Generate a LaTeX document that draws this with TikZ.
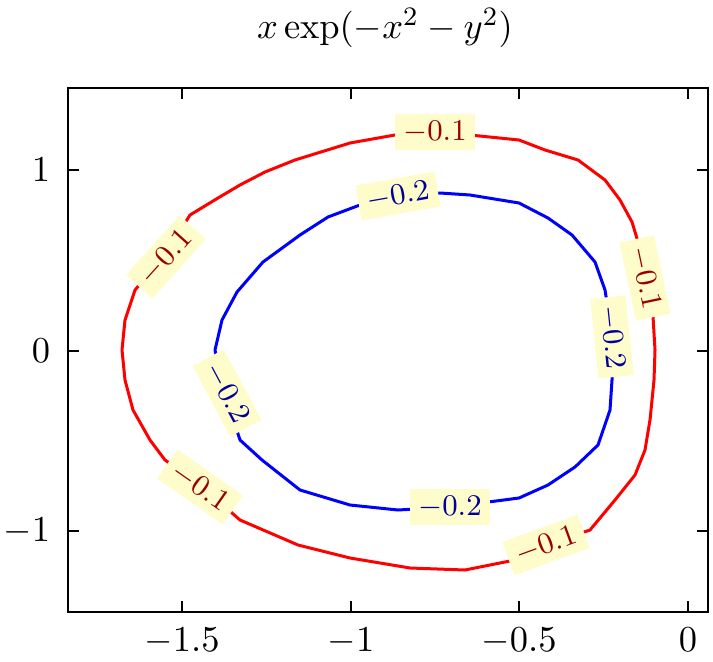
\documentclass[tikz,border=0pt]{standalone}
\begin{document}
\begin{tikzpicture}[x=0.3pt,y=-0.3pt,
 redc/.style={red,line width=0.9pt,line join=round},
 bluec/.style={blue,line width=0.9pt,line join=round},
 lab/.style={fill=yellow!20,inner xsep=2.5pt,inner ysep=2pt,font=\fontsize{8.6}{10}\selectfont},
 big/.style={font=\fontsize{10.8}{13}\selectfont},
 tk/.style={line width=0.4pt}]
\useasboundingbox (0,0) rectangle (713,661);
\node[big] (title) at (385,28) {$x\exp(-x^2-y^2)$};
\draw[redc] (122,350)--(125,320)--(135,290)--(165,255)--(190,215)--(218,198)--(240,185)--(265,172)--(295,160)--(350,143)--(395,135)--(435,132)--(470,135)--(519,140)--(545,150)--(578,160)--(605,180)--(620,200)--(632,222)--(645,265)--(652,300)--(655,350)--(654,380)--(650,420)--(645,450)--(635,475)--(615,500)--(590,530)--(545,545)--(515,560)--(465,570)--(410,568)--(350,558)--(298,545)--(240,520)--(200,485)--(165,460)--(150,440)--(133,410)--(125,380)--cycle;
\draw[bluec] (215,350)--(222,320)--(237,292)--(263,262)--(300,235)--(328,217)--(360,205)--(398,195)--(440,193)--(470,195)--(519,203)--(548,218)--(572,235)--(595,262)--(605,290)--(612,335)--(612,380)--(610,410)--(598,445)--(575,467)--(548,485)--(519,498)--(450,507)--(398,510)--(350,505)--(300,490)--(262,460)--(240,440)--(225,395)--(218,365)--cycle;
\node[lab,text=red!60!black] (r1) at (435,132) {$-0.1$};
\node[lab,text=red!60!black,rotate=48] (r2) at (166,257) {$-0.1$};
\node[lab,text=red!60!black,rotate=-78] (r3) at (645,278) {$-0.1$};
\node[lab,text=red!60!black,rotate=-35] (r4) at (200,487) {$-0.1$};
\node[lab,text=red!60!black,rotate=20] (r5) at (546,545) {$-0.1$};
\node[lab,text=blue!60!black,rotate=10] (b1) at (398,196) {$-0.2$};
\node[lab,text=blue!60!black,rotate=-84] (b2) at (612,337) {$-0.2$};
\node[lab,text=blue!60!black] (b3) at (450,507) {$-0.2$};
\node[lab,text=blue!60!black,rotate=-62] (b4) at (227,393) {$-0.2$};
\draw[line width=0.5pt] (68,88) rectangle (708,612);
\foreach \x/\t in {182/{-1.5},351/{-1},519/{-0.5},688/{0}}{
 \draw[tk] (\x,612)--(\x,601); \draw[tk] (\x,88)--(\x,99);
 \node[big,anchor=north] at (\x,616) {$\t$};}
\foreach \y/\t in {170/{1},351/{0},531/{-1}}{
 \draw[tk] (68,\y)--(79,\y); \draw[tk] (708,\y)--(697,\y);
 \node[big,anchor=east] at (62,\y) {$\t$};}
\end{tikzpicture}
\end{document}
